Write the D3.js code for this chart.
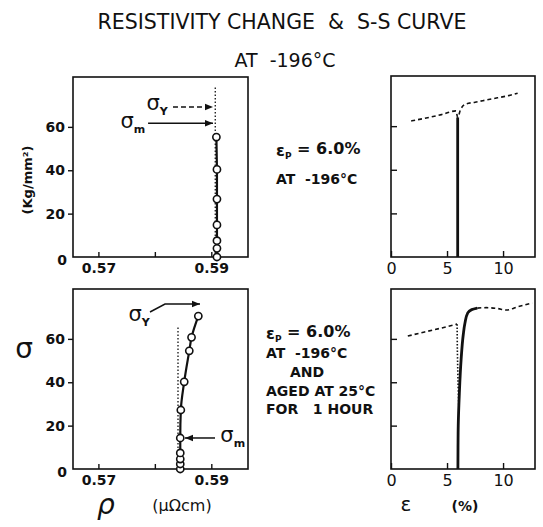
<!DOCTYPE html>
<html><head><meta charset="utf-8">
<script src="https://cdn.jsdelivr.net/npm/d3@7"></script>
<style>
body{margin:0;background:#fff}
svg{display:block}
text{font-family:"DejaVu Sans",sans-serif;fill:#111;white-space:pre}
</style>
</head><body>
<svg id="c" width="543" height="527"></svg>
<script>
// ---------- data ----------
const sigmaTicks=[20,40,60];
const rhoTicks=[0.57,0.58,0.59];
const rhoTickLabels=["0.57","","0.59"];
const epsTicks=[0,5,10];
const epsTickLabels=["0","5","10"];

// top-left: resistivity vs stress (strained at -196C)
const tlRho  =[0.5910,0.5910,0.5910,0.5910,0.5910,0.5910,0.5909];
const tlSigma=[0,4,7.5,14.8,26.7,40.4,55.3];
const tlDottedRho=[0.5907,0.5907];
const tlDottedSigma=[0,79];

// bottom-left: resistivity vs stress (aged at 25C)
const blRho  =[0.5845,0.5845,0.5845,0.5845,0.5845,0.5846,0.5852,0.5861,0.5865,0.5877];
const blSigma=[0,2.3,4.6,7.4,14.3,27.2,40.2,54.5,60.7,70.5];
const blDottedRho=[0.5841,0.5841];
const blDottedSigma=[0,66];

// top-right: stress-strain
const trSolidEps=[5.95,5.95];
const trSolidSigma=[0,64];
const trDashEps  =[1.8,3,4.5,5.8,5.95,6.2,6.6,7.5,8.5,9.5,10.5,11.3];
const trDashSigma=[62.4,63.6,65.3,67,64,67.5,70,71,72,73,74,75.1];

// bottom-right: stress-strain
const brDashAEps  =[1.5,3,4.5,5.9];
const brDashASigma=[61.3,63.2,65,66.8];
const brDotEps    =[5.9,5.92,5.98,6.05];
const brDotSigma  =[66.8,55,40,28.5];
const brSolidEps  =[5.97,5.98,6.0,6.1,6.25,6.45,6.6,6.85,7.2,7.7];
const brSolidSigma=[0,10,20,35,50,62,67.3,72,73.5,74.2];
const brDashBEps  =[7.7,8.5,9.5,10.3,11.3,12.6];
const brDashBSigma=[74.2,74.4,74,73.3,74.8,76.5];

// ---------- layout ----------
const svg=d3.select("#c");
const sigmaDomain=[0,83];
const rhoDomain=[0.5655,0.5965];
const epsDomain=[0,12.85];
const TL={l:73,r:248,t:77,b:257}, BL={l:73,r:248,t:289,b:469};
const TR={l:391,r:535,t:76,b:257}, BR={l:391,r:535,t:289,b:469};

const defs=svg.append("defs");
defs.append("marker").attr("id","arr").attr("viewBox","0 0 10 10").attr("refX",10).attr("refY",5)
  .attr("markerWidth",8).attr("markerHeight",8).attr("markerUnits","userSpaceOnUse").attr("orient","auto")
  .append("path").attr("d","M0,1 L10,5 L0,9 Z").attr("fill","#111");

function mk(p,xd){return {x:d3.scaleLinear().domain(xd).range([p.l,p.r]),y:d3.scaleLinear().domain(sigmaDomain).range([p.b,p.t])};}
const sTL=mk(TL,rhoDomain), sBL=mk(BL,rhoDomain), sTR=mk(TR,epsDomain), sBR=mk(BR,epsDomain);

function frame(p){
  svg.append("rect").attr("x",p.l).attr("y",p.t).attr("width",p.r-p.l).attr("height",p.b-p.t)
    .attr("fill","none").attr("stroke","#111").attr("stroke-width",1.6);
}
function styleAxis(g,fs){
  g.attr("font-family","DejaVu Sans, sans-serif").attr("font-size",fs).attr("font-weight","bold");
  g.select(".domain").remove();
  g.selectAll(".tick line").attr("stroke","#111").attr("stroke-width",1.4);
}
function leftPanel(p,s){
  frame(p);
  const ax=svg.append("g").attr("transform",`translate(0,${p.b})`)
    .call(d3.axisBottom(s.x).tickValues(rhoTicks).tickSize(-5).tickPadding(6).tickFormat((d,i)=>rhoTickLabels[i]));
  styleAxis(ax,14);
  const ay=svg.append("g").attr("transform",`translate(${p.l},0)`)
    .call(d3.axisLeft(s.y).tickValues(sigmaTicks).tickSize(5).tickPadding(3).tickFormat(d3.format("d")));
  styleAxis(ay,14);
  svg.append("text").attr("x",p.l-6).attr("y",s.y(0)+3).attr("dy","0.35em").attr("text-anchor","end")
    .attr("font-size",14).attr("font-weight","bold").text("0");
}
function rightPanel(p,s){
  frame(p);
  const ax=svg.append("g").attr("transform",`translate(0,${p.b})`)
    .call(d3.axisBottom(s.x).tickValues(epsTicks).tickSize(-6).tickPadding(6).tickFormat((d,i)=>epsTickLabels[i]));
  styleAxis(ax,16);
  ax.attr("font-weight","normal");
  const ay=svg.append("g").attr("transform",`translate(${p.l},0)`)
    .call(d3.axisLeft(s.y).tickValues(sigmaTicks).tickSize(-6).tickFormat(""));
  styleAxis(ay,12);
}
leftPanel(TL,sTL); leftPanel(BL,sBL); rightPanel(TR,sTR); rightPanel(BR,sBR);

function zip(a,b){return a.map((v,i)=>[v,b[i]]);}
function path(s,xs,ys,w,dash,curve){
  svg.append("path").datum(zip(xs,ys))
    .attr("d",d3.line().x(d=>s.x(d[0])).y(d=>s.y(d[1])).curve(curve||d3.curveLinear))
    .attr("fill","none").attr("stroke","#111").attr("stroke-width",w)
    .attr("stroke-dasharray",dash||null).attr("stroke-linejoin","round");
}
function circles(s,xs,ys){
  svg.append("g").selectAll("circle").data(zip(xs,ys)).join("circle")
    .attr("cx",d=>s.x(d[0])).attr("cy",d=>s.y(d[1])).attr("r",3.6)
    .attr("fill","#fff").attr("stroke","#111").attr("stroke-width",1.6);
}

// top-left
path(sTL,tlDottedRho,tlDottedSigma,1.3,"1.5,2");
path(sTL,tlRho,tlSigma,2.2);
circles(sTL,tlRho,tlSigma);
// bottom-left
path(sBL,blDottedRho,blDottedSigma,1.3,"1.5,2");
path(sBL,blRho,blSigma,2.2,null,d3.curveMonotoneY);
circles(sBL,blRho,blSigma);
// top-right
path(sTR,trDashEps,trDashSigma,1.6,"4,3",d3.curveMonotoneX);
path(sTR,trSolidEps,trSolidSigma,2.8);
// bottom-right
path(sBR,brDashAEps,brDashASigma,1.6,"4,3");
path(sBR,brDotEps,brDotSigma,1.6,"1.5,1.8");
path(sBR,brSolidEps,brSolidSigma,2.8,null,d3.curveMonotoneY);
path(sBR,brDashBEps,brDashBSigma,1.6,"4,3",d3.curveMonotoneX);

// ---------- annotations (data coordinates) ----------
function arrow(s,pts,dash){
  svg.append("path").datum(pts).attr("d",d3.line().x(d=>s.x(d[0])).y(d=>s.y(d[1])))
    .attr("fill","none").attr("stroke","#111").attr("stroke-width",1.5)
    .attr("stroke-dasharray",dash||null).attr("marker-end","url(#arr)");
}
function sigLabel(s,rho,sig,sub,anchor){
  const t=svg.append("text").attr("x",s.x(rho)).attr("y",s.y(sig)).attr("dy","0.3em")
    .attr("text-anchor",anchor).attr("font-size",21);
  t.append("tspan").text("σ");
  t.append("tspan").attr("font-size",11).attr("font-weight","bold").attr("dy","0.45em").text(sub);
}
// top-left
arrow(sTL,[[0.58321,69.2],[0.5903,69.2]],"5,3");
arrow(sTL,[[0.5788,61.7],[0.5903,61.7]]);
sigLabel(sTL,0.5823,70.5,"Y","end");
sigLabel(sTL,0.5783,62.5,"m","end");
// bottom-left
arrow(sBL,[[0.57914,72.4],[0.5818,76.1],[0.5880,76.1]]);
arrow(sBL,[[0.59066,14.3],[0.58534,14.3]]);
sigLabel(sBL,0.5791,71,"Y","end");
sigLabel(sBL,0.5916,15.2,"m","start");

// ---------- text ----------
svg.append("text").attr("x",282).attr("y",29).attr("text-anchor","middle").attr("font-size",20.5)
  .text("RESISTIVITY CHANGE  &  S-S CURVE");
svg.append("text").attr("x",285).attr("y",67).attr("text-anchor","middle").attr("font-size",19).text("AT  -196°C");

function eps(x,y){
  const t=svg.append("text").attr("x",x).attr("y",y).attr("font-size",16).attr("font-weight","bold");
  t.append("tspan").text("ε");
  t.append("tspan").attr("font-size",9).attr("dy","0.35em").text("P");
  t.append("tspan").attr("dy","-0.3em").text(" = 6.0%");
}
eps(276,156);
svg.append("text").attr("x",276).attr("y",184).attr("font-size",14).attr("font-weight","bold").text("AT  -196°C");
eps(266,339);
const blText=[["AT  -196°C",266,358,"start"],["AND",307,377,"middle"],["AGED AT 25°C",266,396,"start"],["FOR   1 HOUR",266,414,"start"]];
blText.forEach(d=>svg.append("text").attr("x",d[1]).attr("y",d[2]).attr("text-anchor",d[3])
  .attr("font-size",14).attr("font-weight","bold").text(d[0]));

// axis titles
svg.append("text").attr("transform","translate(32,180) rotate(-90)").attr("text-anchor","middle")
  .attr("font-size",13).attr("font-weight","bold").text("(Kg/mm²)");
svg.append("text").attr("x",24).attr("y",358).attr("text-anchor","middle").attr("font-size",28).text("σ");
svg.append("text").attr("x",106).attr("y",514).attr("text-anchor","middle").attr("font-size",28).attr("font-style","italic").text("ρ");
svg.append("text").attr("x",182).attr("y",511).attr("text-anchor","middle").attr("font-size",16).text("(μΩcm)");
svg.append("text").attr("x",406).attr("y",511).attr("text-anchor","middle").attr("font-size",20).text("ε");
svg.append("text").attr("x",465).attr("y",511).attr("text-anchor","middle").attr("font-size",14).attr("font-weight","bold").text("(%)");
</script>
</body></html>
